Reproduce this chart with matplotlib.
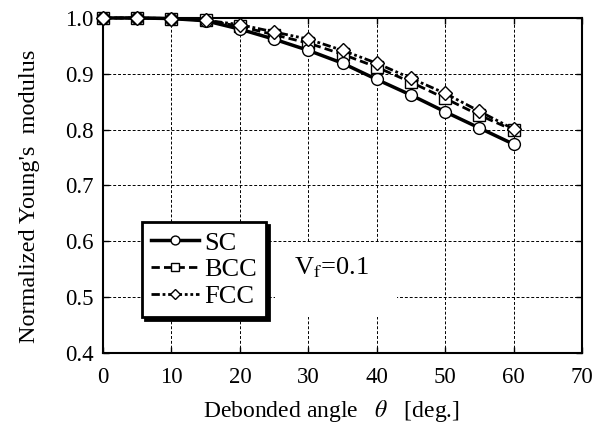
import numpy as np
import matplotlib.pyplot as plt
from matplotlib.patches import Rectangle

plt.rcParams['font.family'] = ['Liberation Serif', 'DejaVu Serif']
plt.rcParams['mathtext.fontset'] = 'stix'

# Debonded angle (deg.)
theta = [0, 5, 10, 15, 20, 25, 30, 35, 40, 45, 50, 55, 60]
# Normalized Young's modulus
sc = [1.0, 1.0, 0.999, 0.995, 0.980, 0.962, 0.942, 0.919, 0.890, 0.862, 0.832, 0.803, 0.774]
bcc = [1.0, 1.0, 0.999, 0.996, 0.985, 0.970, 0.955, 0.935, 0.912, 0.885, 0.856, 0.826, 0.799]
fcc = [1.0, 1.0, 0.999, 0.996, 0.988, 0.975, 0.962, 0.942, 0.919, 0.892, 0.865, 0.833, 0.801]

fig = plt.figure(figsize=(6.1, 4.23), dpi=100)
ax = fig.add_axes([0.169, 0.1655, 0.785, 0.792])
ax.set_axisbelow(True)

ax.plot(theta, sc, 'k-', lw=2.5, marker='o', ms=8.5, mfc='w', mec='k', mew=1,
        label='SC', zorder=5, clip_on=False)
ax.plot(theta, bcc, 'k--', lw=2, marker='s', ms=8, mfc='w', mec='k', mew=1,
        label='BCC', zorder=4, dashes=(3, 1.5), clip_on=False)
ax.plot(theta, fcc, 'k-', lw=2, marker='D', ms=7, mfc='w', mec='k', mew=1,
        label='FCC', zorder=6, dashes=(3, 1, 1, 1, 1, 1), clip_on=False)

ax.set_xlim(0, 70)
ax.set_ylim(0.4, 1.0)
ax.set_xticks(np.arange(0, 71, 10))
ax.set_yticks(np.arange(0.4, 1.01, 0.1))
ax.set_yticklabels(['%.1f' % v for v in np.arange(0.4, 1.01, 0.1)])
ax.tick_params(direction='in', labelsize=16.5, length=4, width=1, top=True, right=True)
ax.tick_params(axis='x', pad=10)
ax.tick_params(axis='y', pad=7)
ax.grid(True, color='k', ls=(0, (3, 2)), lw=0.7)
for s in ax.spines.values():
    s.set_linewidth(1.5)

ax.set_xlabel(r"Debonded angle   $\theta$   [deg.]", fontsize=17, labelpad=7)
ax.set_ylabel("Normalized Young's  modulus", fontsize=17.5, labelpad=18)
ax.xaxis.label.set_x(0.476)
ax.yaxis.label.set_y(0.469)

leg = ax.legend(loc='upper left', bbox_to_anchor=(0.081, 0.391), fontsize=19, frameon=True,
                fancybox=False, shadow={'color': 'k', 'alpha': 1}, handlelength=1.8,
                handletextpad=0.2, borderpad=0.35, labelspacing=0.12, markerscale=0.75,
                borderaxespad=0)
leg.get_frame().set_edgecolor('k')
leg.get_frame().set_linewidth(2)

# white patch behind the volume fraction label
ax.add_patch(Rectangle((0.359, 0.107), 0.255, 0.221, transform=ax.transAxes,
                       fc='w', ec='none', zorder=1))
ax.text(0.398, 0.254, r'V$_\mathrm{f}$=0.1', transform=ax.transAxes, fontsize=19,
        va='center', ha='left', zorder=7)

fig.savefig('out.png', dpi=100)
